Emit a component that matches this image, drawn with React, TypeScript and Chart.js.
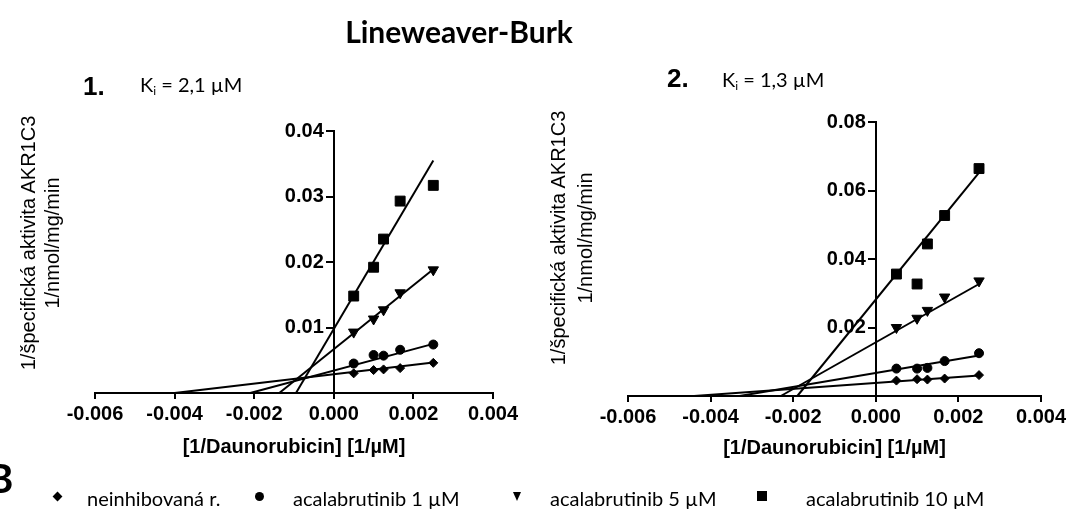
import React, { useEffect, useRef } from 'react';
import { Chart, registerables } from 'chart.js';

Chart.register(...registerables);

// Reciprocal daunorubicin concentrations [1/µM]
const invConc = [0.0005, 0.001, 0.00125, 0.001667, 0.0025];

// Panel 1 (Ki = 2,1 µM): 1/specific activity
const p1Uninhibited = [0.003, 0.0035, 0.0036, 0.0038, 0.0046];
const p1Acala1 = [0.0045, 0.0058, 0.0057, 0.0066, 0.0074];
const p1Acala5 = [0.0093, 0.0113, 0.0127, 0.0153, 0.0188];
const p1Acala10 = [0.0148, 0.0192, 0.0235, 0.0293, 0.0317];
// Regression lines: x-intercept and y value at the last concentration
const p1FitStartX = [-0.004, -0.0021, -0.00137, -0.00095];
const p1FitEndY = [0.00466, 0.0075, 0.0189, 0.0355];

// Panel 2 (Ki = 1,3 µM)
const p2Uninhibited = [0.0045, 0.0049, 0.0048, 0.0051, 0.0061];
const p2Acala1 = [0.008, 0.008, 0.0082, 0.0102, 0.0125];
const p2Acala5 = [0.02, 0.0227, 0.025, 0.0289, 0.0336];
const p2Acala10 = [0.0356, 0.0327, 0.0444, 0.0527, 0.0664];
const p2FitStartX = [-0.0044, -0.0033, -0.0023, -0.0019];
const p2FitEndY = [0.006, 0.0118, 0.0327, 0.0652];

const fitEndX = 0.0025;

const seriesLabels = ['neinhibovaná r.', 'acalabrutinib 1 µM', 'acalabrutinib 5 µM', 'acalabrutinib 10 µM'];

const markerStyles: any[] = [
  { pointStyle: 'rectRot', pointRadius: 4.5, rotation: 0 },
  { pointStyle: 'circle', pointRadius: 4.5, rotation: 0 },
  { pointStyle: 'triangle', pointRadius: 6, rotation: 180 },
  { pointStyle: 'rect', pointRadius: 7, rotation: 0 },
];

const tickFont = { family: '"Liberation Sans", Arial, sans-serif', size: 20, weight: 'bold' as const };

function buildConfig(
  series: number[][],
  fitStart: number[],
  fitEnd: number[],
  yMax: number,
  yStep: number,
  padding: any,
  titlePadTop: number
): any {
  const lineSets = fitStart.map((xs, i) => ({
    label: seriesLabels[i] + ' fit',
    data: [
      { x: xs, y: 0 },
      { x: fitEndX, y: fitEnd[i] },
    ],
    showLine: true,
    borderColor: '#000',
    borderWidth: 2,
    pointRadius: 0,
    clip: false,
  }));
  const pointSets = series.map((vals, i) => ({
    label: seriesLabels[i],
    data: invConc.map((x, j) => ({ x, y: vals[j] })),
    showLine: false,
    pointStyle: markerStyles[i].pointStyle,
    pointRadius: markerStyles[i].pointRadius,
    rotation: markerStyles[i].rotation,
    pointBackgroundColor: '#000',
    pointBorderColor: '#000',
    pointBorderWidth: 1,
    clip: false,
  }));
  return {
    type: 'scatter',
    data: { datasets: [...lineSets, ...pointSets] },
    options: {
      animation: false,
      responsive: false,
      devicePixelRatio: 1,
      layout: { padding },
      plugins: { legend: { display: false }, tooltip: { enabled: false } },
      scales: {
        x: {
          type: 'linear',
          position: 'bottom',
          min: -0.006,
          max: 0.004,
          grid: { display: true, drawOnChartArea: false, drawTicks: true, tickLength: 6, color: '#000', lineWidth: 2 },
          border: { display: true, color: '#000', width: 2 },
          ticks: {
            stepSize: 0.002,
            autoSkip: false,
            maxRotation: 0,
            padding: 3,
            color: '#000',
            font: tickFont,
            callback: (v: number) => (Math.abs(v) < 1e-9 ? '0.000' : v.toFixed(3)),
          },
          title: {
            display: true,
            text: '[1/Daunorubicin] [1/µM]',
            color: '#000',
            font: tickFont,
            padding: { top: titlePadTop, bottom: 4 },
          },
        },
        y: {
          type: 'linear',
          position: { x: 0 },
          min: 0,
          max: yMax,
          grid: { display: true, drawOnChartArea: false, drawTicks: true, tickLength: 7, color: '#000', lineWidth: 2 },
          border: { display: true, color: '#000', width: 2 },
          ticks: {
            stepSize: yStep,
            padding: 3,
            color: '#000',
            font: tickFont,
            // labels of an axis placed at x = 0 are right-aligned on the axis; the en space keeps them clear of it
            callback: (v: number) => (Math.abs(v) < 1e-9 ? '' : v.toFixed(2) + '\u2002'),
          },
        },
      },
    },
  };
}

function Panel(props: { left: number; width: number; height: number; make: () => any }) {
  const ref = useRef<HTMLCanvasElement>(null);
  useEffect(() => {
    const chart = new Chart(ref.current as HTMLCanvasElement, props.make());
    return () => chart.destroy();
  }, []);
  return (
    <canvas
      ref={ref}
      width={props.width}
      height={props.height}
      style={{ position: 'absolute', left: props.left, top: 0, width: props.width, height: props.height }}
    />
  );
}

const abs = (extra: React.CSSProperties): React.CSSProperties => ({
  position: 'absolute',
  whiteSpace: 'nowrap',
  lineHeight: 1,
  color: '#000',
  ...extra,
});

const yTitleFont: React.CSSProperties = { fontFamily: '"Liberation Sans", Arial, sans-serif', fontSize: 20 };
const lato = '"Lato", "Open Sans", sans-serif';

function VText(props: { x: number; y: number; text: string }) {
  return (
    <div style={abs({ left: props.x, top: props.y, transform: 'translate(-50%, -50%) rotate(-90deg)', ...yTitleFont })}>
      {props.text}
    </div>
  );
}

function Marker(props: { x: number; y: number; kind: number }) {
  const base: React.CSSProperties = { position: 'absolute', background: '#000' };
  if (props.kind === 0)
    return <div style={{ ...base, left: props.x - 3.5, top: props.y - 3.5, width: 7, height: 7, transform: 'rotate(45deg)' }} />;
  if (props.kind === 1)
    return <div style={{ ...base, left: props.x - 4.5, top: props.y - 4.5, width: 9, height: 9, borderRadius: '50%' }} />;
  if (props.kind === 2)
    return (
      <div
        style={{
          position: 'absolute',
          left: props.x - 4.5,
          top: props.y - 4,
          width: 0,
          height: 0,
          borderLeft: '4.5px solid transparent',
          borderRight: '4.5px solid transparent',
          borderTop: '9px solid #000',
        }}
      />
    );
  return <div style={{ ...base, left: props.x - 5, top: props.y - 5, width: 10, height: 10 }} />;
}

const legendMarkerX = [57, 259, 517, 762];
const legendTextX = [87, 293, 550, 806];

export default function App() {
  return (
    <div style={{ position: 'absolute', left: 0, top: 0, width: 1069, height: 518, background: '#fff', overflow: 'hidden' }}>
      <Panel
        left={0}
        width={534}
        height={470}
        make={() =>
          buildConfig(
            [p1Uninhibited, p1Acala1, p1Acala5, p1Acala10],
            p1FitStartX,
            p1FitEndY,
            0.04,
            0.01,
            { left: 95, right: 41, top: 131, bottom: 7 },
            6
          )
        }
      />
      <Panel
        left={534}
        width={535}
        height={470}
        make={() =>
          buildConfig(
            [p2Uninhibited, p2Acala1, p2Acala5, p2Acala10],
            p2FitStartX,
            p2FitEndY,
            0.08,
            0.02,
            { left: 94, right: 27, top: 122, bottom: 6 },
            4
          )
        }
      />

      <div style={abs({ left: 459, top: 31, transform: 'translate(-50%, -50%)', fontFamily: lato, fontWeight: 700, fontSize: 30 })}>
        Lineweaver-Burk
      </div>

      <div style={abs({ left: 83, top: 86, transform: 'translateY(-50%)', fontFamily: '"Liberation Sans", Arial', fontWeight: 700, fontSize: 26 })}>
        1.
      </div>
      <div style={abs({ left: 140, top: 85, transform: 'translateY(-50%)', fontFamily: lato, fontSize: 20 })}>
        K<sub style={{ fontSize: 12, verticalAlign: -3 }}>i</sub> = 2,1 µM
      </div>
      <div style={abs({ left: 667, top: 78, transform: 'translateY(-50%)', fontFamily: '"Liberation Sans", Arial', fontWeight: 700, fontSize: 26 })}>
        2.
      </div>
      <div style={abs({ left: 722, top: 80, transform: 'translateY(-50%)', fontFamily: lato, fontSize: 20 })}>
        K<sub style={{ fontSize: 12, verticalAlign: -3 }}>i</sub> = 1,3 µM
      </div>

      <VText x={28} y={243} text="1/špecifická aktivita AKR1C3" />
      <VText x={52} y={243} text="1/nmol/mg/min" />
      <VText x={558} y={238} text="1/špecifická aktivita AKR1C3" />
      <VText x={585} y={238} text="1/nmol/mg/min" />

      <div style={abs({ left: -13, top: 478, transform: 'translateY(-50%)', fontFamily: lato, fontWeight: 700, fontSize: 40 })}>B</div>

      {seriesLabels.map((lbl, i) => (
        <React.Fragment key={lbl}>
          <Marker x={legendMarkerX[i]} y={496} kind={i} />
          <div style={abs({ left: legendTextX[i], top: 498, transform: 'translateY(-50%)', fontFamily: lato, fontSize: 20 })}>
            {lbl}
          </div>
        </React.Fragment>
      ))}
    </div>
  );
}
